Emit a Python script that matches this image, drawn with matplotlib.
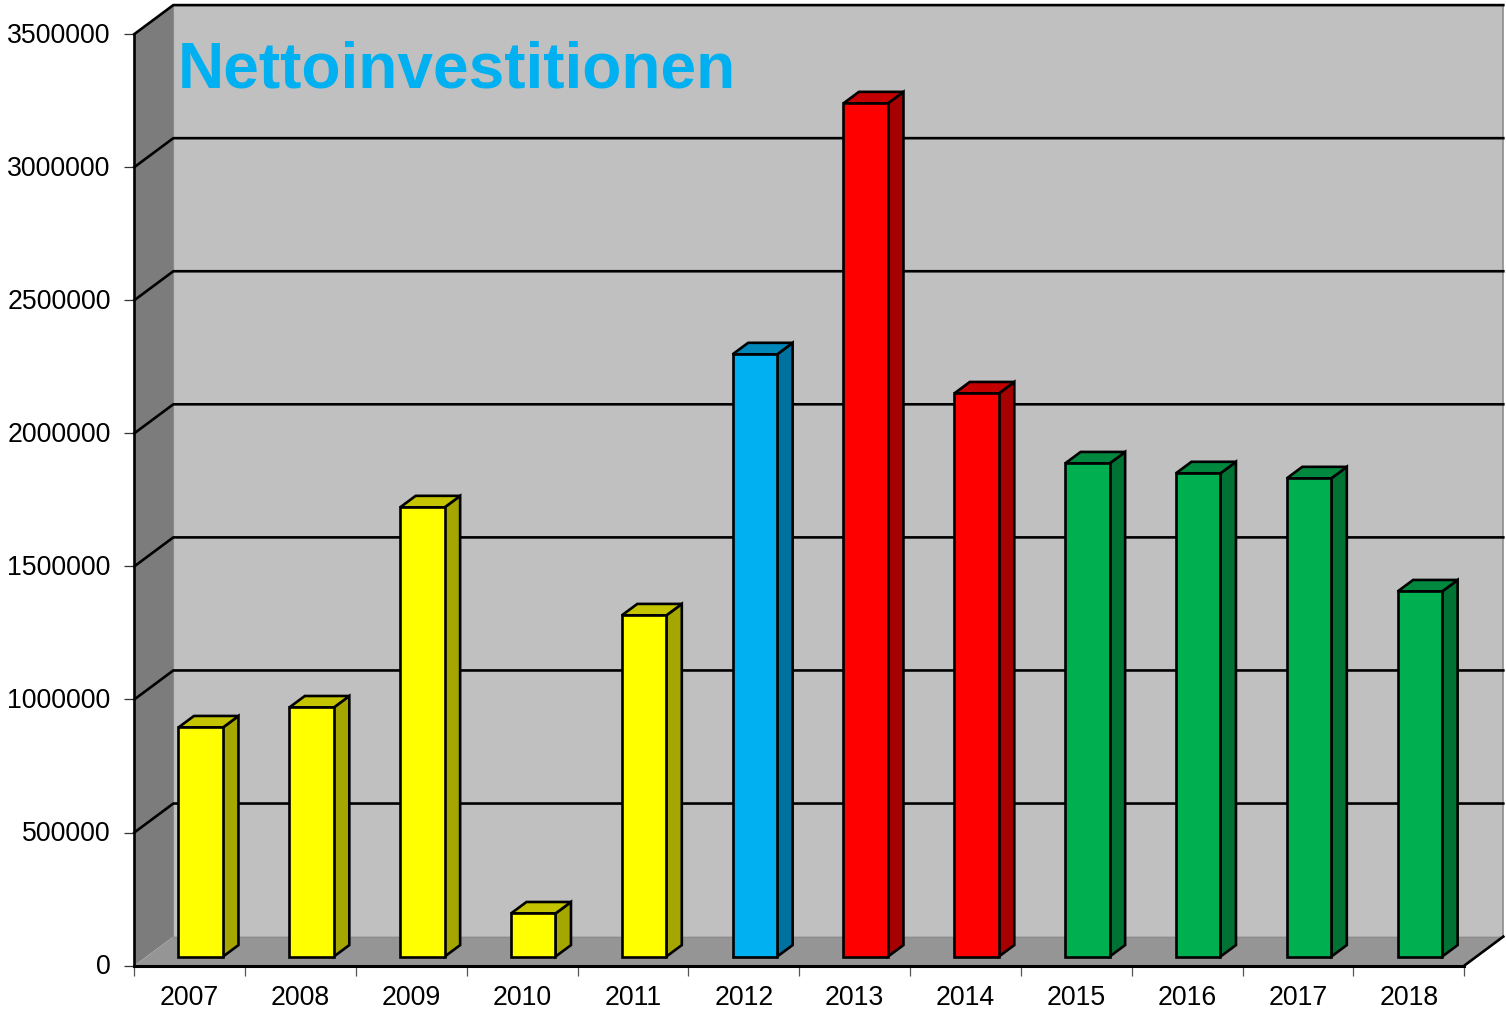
import matplotlib
matplotlib.use("Agg")
import matplotlib.pyplot as plt
from matplotlib.patches import Polygon, Rectangle
from matplotlib.transforms import ScaledTranslation

plt.rcParams['font.family'] = ['Liberation Sans', 'DejaVu Sans']

years = ['2007','2008','2009','2010','2011','2012','2013','2014','2015','2016','2017','2018']
values = [861000,936000,1688000,162000,1282000,2263000,3206000,2116000,1853000,1816000,1797000,1372000]
front_colors = ['#FFFF00']*5 + ['#00B0F0'] + ['#FF0000']*2 + ['#00B050']*4
side_colors = ['#A6A600']*5 + ['#0072A0'] + ['#A60000']*2 + ['#007234']*4
top_colors = ['#C4C400']*5 + ['#0087BA'] + ['#C40000']*2 + ['#00883E']*4
yticks = [0,500000,1000000,1500000,2000000,2500000,3000000,3500000]
title = 'Nettoinvestitionen'

W, H = 1506, 1013
fig = plt.figure(figsize=(W/100, H/100), dpi=100)
L, R, B, T = 134.3, 1464.3, 965.6, 34.1
ax = fig.add_axes([L/W, 1-B/H, (R-L)/W, (B-T)/H])
ax.set_xlim(0, 12)
ax.set_ylim(0, 3500000)
ax.patch.set_visible(False)
for s in ax.spines.values():
    s.set_visible(False)

ux = 12/(R-L)
uy = 3500000/(B-T)
dx, dy = 39*ux, 29*uy     # full depth of the chart box
Ymax = 3500000

# walls
ax.add_patch(Polygon([(dx,dy),(12+dx,dy),(12+dx,Ymax+dy),(dx,Ymax+dy)], fc='#C0C0C0', ec='none', clip_on=False, zorder=1))
ax.add_patch(Polygon([(0,0),(dx,dy),(dx,Ymax+dy),(0,Ymax)], fc='#7C7C7C', ec='none', clip_on=False, zorder=1))
ax.add_patch(Polygon([(0,0),(12,0),(12+dx,dy),(dx,dy)], fc='#959595', ec='none', clip_on=False, zorder=1))
ax.plot([12+dx,12+dx],[dy,Ymax+dy], color='#8C8C8C', lw=1.2, clip_on=False, zorder=1.5)
ax.plot([dx,dx],[dy,Ymax+dy], color='#8A8A8A', lw=0.8, clip_on=False, zorder=1.5)
ax.plot([dx,12+dx],[dy,dy], color='#8C8C8C', lw=0.8, clip_on=False, zorder=1.5)

# gridlines
for v in yticks[1:]:
    ax.plot([0,dx,12+dx],[v,v+dy,v+dy], color='black', lw=1.9, clip_on=False, zorder=2, solid_joinstyle='miter')
# outer edges
ax.plot([0,0],[0,Ymax], color='black', lw=1.9, clip_on=False, zorder=2)
ax.plot([0,12],[0,0], color='black', lw=2.2, clip_on=False, zorder=2)
ax.plot([12,12+dx],[0,dy], color='black', lw=1.9, clip_on=False, zorder=2)

# bars
base = 9*uy
offx = 11.0*ux
bw = 44.5*ux
bdx, bdy = 15.5*ux, 11.5*uy
for i, v in enumerate(values):
    x0 = i + 0.5 + offx - bw/2
    x1 = x0 + bw
    y0, y1 = base, base + v
    kw = dict(ec='black', lw=1.9, clip_on=False, zorder=3+i*0.01, joinstyle='miter')
    ax.add_patch(Polygon([(x1,y0),(x1+bdx,y0+bdy),(x1+bdx,y1+bdy),(x1,y1)], fc=side_colors[i], **kw))
    ax.add_patch(Polygon([(x0,y1),(x1,y1),(x1+bdx,y1+bdy),(x0+bdx,y1+bdy)], fc=top_colors[i], **kw))
    ax.add_patch(Rectangle((x0,y0), bw, v, fc=front_colors[i], **kw))

# ticks
ax.set_xticks(range(13))
ax.set_xticklabels([])
ax.set_yticks(yticks)
ax.set_yticklabels([str(v) for v in yticks], fontsize=19.2)
ax.tick_params(axis='y', length=7.5, width=0.9, color='#333333', pad=9.5)
ax.tick_params(axis='x', length=7.5, width=0.9, color='#555555')
shift = ScaledTranslation(0, 1.5/100, fig.dpi_scale_trans)
for lab in ax.get_yticklabels():
    lab.set_transform(lab.get_transform() + shift)
for i, y in enumerate(years):
    ax.text(i+0.5, -19.5*uy, y, ha='center', va='top', fontsize=19.2, clip_on=False)

fig.text(178/W, 1-70/H, title, color='#00B0F0', fontsize=46.1, fontweight='bold', ha='left', va='center')
fig.savefig('out.png', dpi=100, facecolor='white')
